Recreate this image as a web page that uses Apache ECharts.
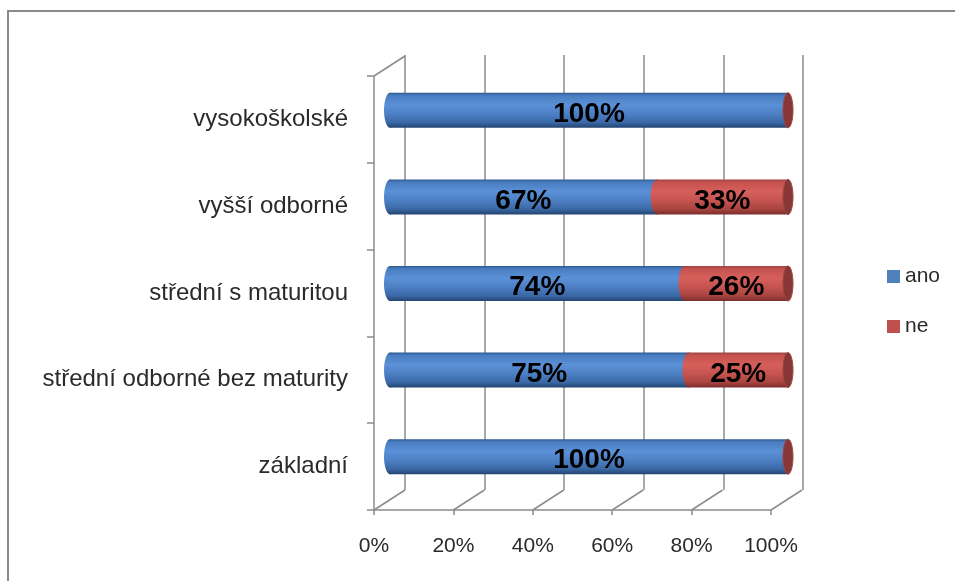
<!DOCTYPE html>
<html>
<head>
<meta charset="utf-8">
<script src="https://cdn.jsdelivr.net/npm/echarts@6/dist/echarts.min.js"></script>
<style>
  html, body { margin: 0; padding: 0; background: #fff; }
  #chart { width: 955px; height: 581px; }
</style>
</head>
<body>
<div id="chart"></div>
<script>
// data (bottom category first)
const categories = ['základní', 'střední odborné bez maturity', 'střední s maturitou', 'vyšší odborné', 'vysokoškolské']
const ano = [100, 75, 74, 67, 100]
const ne = [0, 25, 26, 33, 0]
const xTicks = [0, 20, 40, 60, 80, 100]

const FONT = '"Liberation Sans", Arial, sans-serif'
const AXIS_GRAY = '#8c8c8c'
const TEXT = '#2a2a2a'

// pseudo 3D: front plane (axes), back wall (gridlines), bars in between
const frontGrid = { left: 374, right: 184, top: 76, bottom: 71 }
const backGrid = { left: 405, right: 152, top: 55, bottom: 91 }
const barGrid = { left: 390, right: 167, top: 67, bottom: 81 }
const depthX = backGrid.left - frontGrid.left
const depthY = backGrid.bottom - frontGrid.bottom

const BAR_H = 35

const blueFill = () => new echarts.graphic.LinearGradient(0, 0, 0, 1, [
  { offset: 0, color: '#2e5a8e' },
  { offset: 0.08, color: '#4a7dc0' },
  { offset: 0.35, color: '#5b91d8' },
  { offset: 0.6, color: '#4d80c4' },
  { offset: 0.85, color: '#3a68a6' },
  { offset: 1, color: '#23446f' }
])
const redFill = () => new echarts.graphic.LinearGradient(0, 0, 0, 1, [
  { offset: 0, color: '#9e4340' },
  { offset: 0.08, color: '#c4524e' },
  { offset: 0.35, color: '#d65f5b' },
  { offset: 0.6, color: '#c65450' },
  { offset: 0.85, color: '#a8443f' },
  { offset: 1, color: '#7a2e2c' }
])

// [start, end, categoryIndex, value]
const anoData = ano.map((v, i) => [0, v, i, v])
const neData = ne.map((v, i) => [ano[i], ano[i] + v, i, v])

function cylinder(fill, withCap) {
  return function (params, api) {
    const cat = api.value(2)
    const val = api.value(3)
    const p0 = api.coord([api.value(0), cat])
    const p1 = api.coord([api.value(1), cat])
    const y = p0[1] - BAR_H / 2
    const children = []
    if (val > 0) {
      children.push({
        type: 'rect',
        shape: { x: p0[0], y: y, width: p1[0] - p0[0], height: BAR_H },
        style: { fill: fill() }
      })
      children.push({
        type: 'ellipse',
        shape: { cx: p0[0], cy: p0[1], rx: 6, ry: BAR_H / 2 },
        style: { fill: fill() }
      })
    }
    if (withCap) {
      children.push({
        type: 'ellipse',
        shape: { cx: p1[0], cy: p1[1], rx: 5, ry: BAR_H / 2 },
        style: { fill: '#873836', stroke: '#9e4542', lineWidth: 1 }
      })
    }
    if (val > 0) {
      children.push({
        type: 'text',
        style: {
          text: val + '%',
          x: (p0[0] + p1[0]) / 2,
          y: p0[1] + 4,
          align: 'center',
          verticalAlign: 'middle',
          fontSize: 28,
          fontWeight: 'bold',
          fontFamily: FONT,
          fill: '#000'
        }
      })
    }
    return { type: 'group', children: children }
  }
}

// floor lines from the front axis back to the wall
function floorLines(params, api) {
  const cs = params.coordSys
  const x = api.coord([api.value(0), 0])[0]
  const yb = cs.y + cs.height
  const style = { stroke: AXIS_GRAY, lineWidth: 1.5 }
  const children = [{
    type: 'line',
    shape: { x1: x, y1: yb, x2: x + depthX, y2: yb - depthY },
    style: style
  }]
  if (api.value(0) === xTicks[0]) {
    children.push({
      type: 'line',
      shape: { x1: cs.x, y1: cs.y, x2: cs.x + depthX, y2: cs.y - depthY },
      style: style
    })
  }
  return { type: 'group', children: children }
}

const chart = echarts.init(document.getElementById('chart'))
chart.setOption({
  animation: false,
  backgroundColor: '#fff',
  graphic: [{
    type: 'rect',
    shape: { x: 8, y: 11, width: 1000, height: 620 },
    style: { fill: 'none', stroke: '#8a8a8a', lineWidth: 2 },
    silent: true
  }],
  legend: {
    orient: 'vertical',
    left: 882,
    top: 261,
    itemWidth: 13,
    itemHeight: 13,
    itemGap: 29,
    icon: 'rect',
    data: ['ano', 'ne'],
    textStyle: { fontSize: 21, fontFamily: FONT, color: TEXT }
  },
  grid: [
    Object.assign({}, barGrid),
    Object.assign({}, frontGrid),
    Object.assign({}, backGrid)
  ],
  xAxis: [
    { gridIndex: 0, type: 'value', min: 0, max: 100, show: false },
    {
      gridIndex: 1, type: 'value', min: 0, max: 100, interval: 20,
      axisLine: { show: true, lineStyle: { color: AXIS_GRAY, width: 1.5 } },
      axisTick: { show: true, length: 5, lineStyle: { color: AXIS_GRAY, width: 1.5 } },
      splitLine: { show: false },
      axisLabel: {
        formatter: '{value}%', margin: 26,
        fontSize: 21, fontFamily: FONT, color: TEXT
      }
    },
    {
      gridIndex: 2, type: 'value', min: 0, max: 100, interval: 20,
      axisLine: { show: false }, axisTick: { show: false }, axisLabel: { show: false },
      splitLine: { show: true, lineStyle: { color: AXIS_GRAY, width: 1.5 } }
    }
  ],
  yAxis: [
    { gridIndex: 0, type: 'category', data: categories, show: false },
    {
      gridIndex: 1, type: 'category', data: categories,
      axisLine: { show: true, lineStyle: { color: AXIS_GRAY, width: 1.5 } },
      axisTick: { show: true, length: 7, lineStyle: { color: AXIS_GRAY, width: 1.5 } },
      axisLabel: { margin: 26, fontSize: 24, fontFamily: FONT, color: TEXT }
    },
    { gridIndex: 2, type: 'category', data: categories, show: false }
  ],
  series: [
    {
      name: 'floor',
      type: 'custom',
      xAxisIndex: 1,
      yAxisIndex: 1,
      silent: true,
      z: 1,
      data: xTicks.map(v => [v, 0]),
      renderItem: floorLines
    },
    {
      name: 'ano',
      type: 'custom',
      xAxisIndex: 0,
      yAxisIndex: 0,
      z: 3,
      itemStyle: { color: '#4f81bd' },
      encode: { x: [0, 1], y: 2 },
      data: anoData,
      renderItem: cylinder(blueFill, false)
    },
    {
      name: 'ne',
      type: 'custom',
      xAxisIndex: 0,
      yAxisIndex: 0,
      z: 4,
      itemStyle: { color: '#c0504d' },
      encode: { x: [0, 1], y: 2 },
      data: neData,
      renderItem: cylinder(redFill, true)
    }
  ]
})
</script>
</body>
</html>
